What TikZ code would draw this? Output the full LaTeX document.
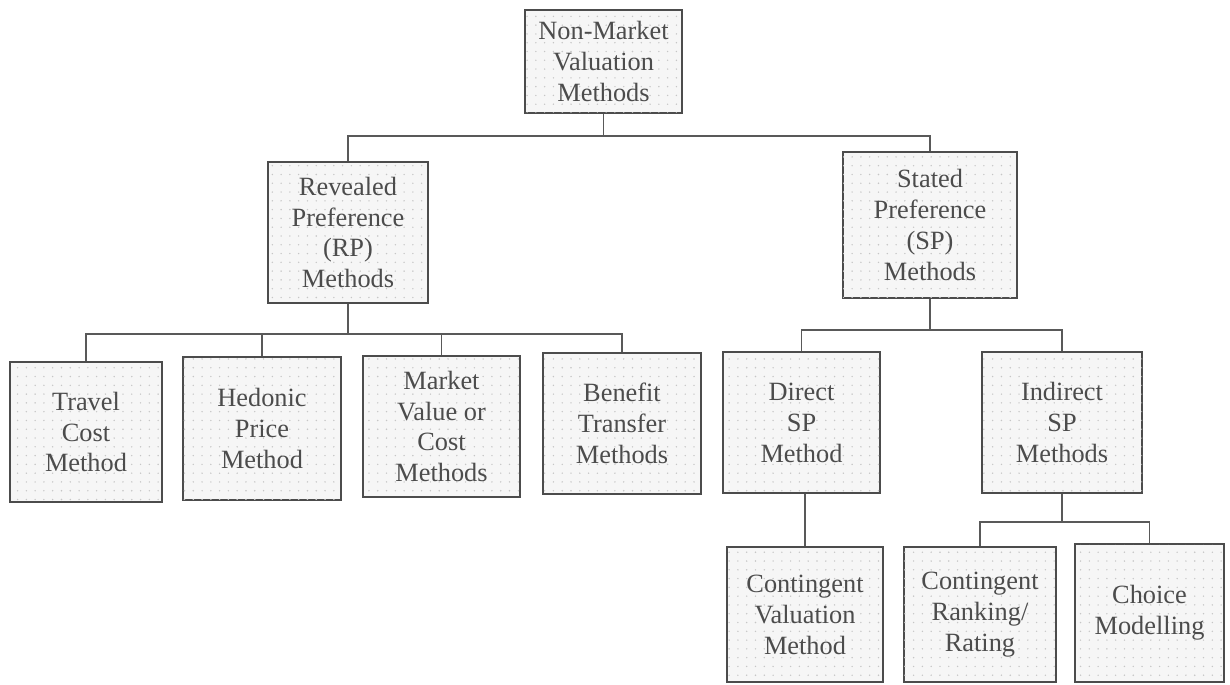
\documentclass[tikz,border=0pt]{standalone}
\usepackage{fontspec}
\setmainfont{Liberation Serif}
\usetikzlibrary{patterns.meta}

\begin{document}
\begin{tikzpicture}[x=0.02cm,y=-0.02cm,
  box/.style={draw=black!70, line width=1.4pt, fill=gray!7,
    postaction={pattern={Dots[distance=5pt,radius=0.45pt]}, pattern color=gray!45},
    align=center, text=black!70, inner sep=2pt,
    font=\fontsize{15}{17.6}\selectfont},
  link/.style={draw=black!65, line width=1.1pt}]
\useasboundingbox (0,0) rectangle (1230,684);

\node[box, minimum width=3.14cm, minimum height=2.06cm] (NMV) at (603.5,61.5) {Non-Market\\Valuation\\Methods};

\node[box, minimum width=3.2cm, minimum height=2.82cm] (RP) at (348,232.5) {Revealed\\Preference\\(RP)\\Methods};
\node[box, minimum width=3.48cm, minimum height=2.92cm] (SP) at (930,225) {Stated\\Preference\\(SP)\\Methods};

\node[box, minimum width=3.04cm, minimum height=2.8cm] (TC) at (86,432) {Travel\\Cost\\Method};
\node[box, minimum width=3.16cm, minimum height=2.86cm] (HP) at (262,428.5) {Hedonic\\Price\\Method};
\node[box, minimum width=3.14cm, minimum height=2.82cm] (MV) at (441.5,426.5) {Market\\Value or\\Cost\\Methods};
\node[box, minimum width=3.16cm, minimum height=2.82cm] (BT) at (622,423.5) {Benefit\\Transfer\\Methods};
\node[box, minimum width=3.14cm, minimum height=2.82cm] (DSP) at (801.5,422.5) {Direct\\SP\\Method};
\node[box, minimum width=3.2cm, minimum height=2.82cm] (ISP) at (1062,422.5) {Indirect\\SP\\Methods};

\node[box, minimum width=3.12cm, minimum height=2.7cm] (CVM) at (805,614.5) {Contingent\\Valuation\\Method};
\node[box, minimum width=3.04cm, minimum height=2.7cm] (CRR) at (980,614.5) {Contingent\\Ranking/\\Rating};
\node[box, minimum width=2.98cm, minimum height=2.76cm] (CM) at (1149.5,613) {Choice\\Modelling};

% top level
\path[link] (NMV.south) -- ++(0,22) coordinate (b1);
\path[link] (RP.north) |- (b1) -| (SP.north);

% revealed preference
\path[link] (RP.south) -- ++(0,30) coordinate (b2);
\foreach \c in {TC,HP,MV,BT}
  \path[link] (b2) -| (\c.north);

% stated preference
\path[link] (SP.south) -- ++(0,31) coordinate (b3);
\foreach \c in {DSP,ISP}
  \path[link] (b3) -| (\c.north);
\path[link] (CVM.north) -- (CVM.north |- DSP.south);
\path[link] (ISP.south) -- ++(0,28) coordinate (b4);
\foreach \c in {CRR,CM}
  \path[link] (b4) -| (\c.north);

\end{tikzpicture}
\end{document}
